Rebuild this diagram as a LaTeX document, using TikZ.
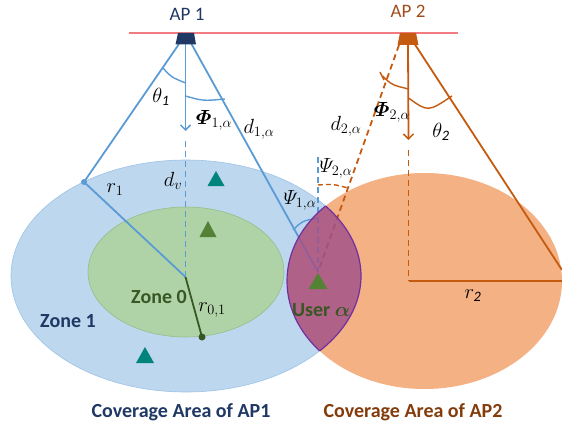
\RequirePackage{fix-cm}
\documentclass[tikz,border=0pt]{standalone}
\usepackage{fontspec}
\setmainfont{Carlito}
\usepackage{amsmath,bm}
\usetikzlibrary{arrows.meta}

\definecolor{beamblue}{HTML}{5B9BD5}
\definecolor{cellblue}{HTML}{BDD7EE}
\definecolor{celledge}{HTML}{9DC3E6}
\definecolor{zonegreen}{HTML}{AFD3A7}
\definecolor{zoneedge}{HTML}{93BF88}
\definecolor{cellorange}{HTML}{F4B183}
\definecolor{beamorange}{HTML}{C55A11}
\definecolor{lensfill}{HTML}{A0508A}
\definecolor{lensedge}{HTML}{7030A0}
\definecolor{navy}{HTML}{1F3864}
\definecolor{darkgreen}{HTML}{385723}
\definecolor{rustbrown}{HTML}{843C0C}
\definecolor{aptwo}{HTML}{A04C1C}
\definecolor{tealtri}{HTML}{00847C}
\definecolor{greentri}{HTML}{548235}
\definecolor{ceiling}{HTML}{F07C82}

\begin{document}
\begin{tikzpicture}[x=1pt,y=-1pt,
  beam1/.style={draw=beamblue,line width=1.8pt},
  beam2/.style={draw=beamorange,line width=1.8pt},
  dash1/.style={beam1,dash pattern=on 6pt off 4pt},
  dash2/.style={beam2,dash pattern=on 6pt off 4pt},
  anglearc1/.style={draw=beamblue,line width=1.4pt},
  anglearc2/.style={draw=beamorange,line width=1.4pt},
  downarrow/.style={-{Straight Barb[length=5pt,width=10pt,line width=1.5pt]}},
  sym/.style={inner sep=0pt,font=\fontsize{20.5}{24}\selectfont},
  zonetxt/.style={inner sep=0pt,font=\fontsize{20}{24}\selectfont\bfseries},
  aptxt/.style={inner sep=0pt,font=\fontsize{19}{22}\selectfont}
]
\useasboundingbox (0,0) rectangle (562,425);

% coverage areas
\fill[cellblue] (186,276) ellipse [x radius=175pt, y radius=116pt];
\draw[celledge,line width=0.6pt] (186,276) ellipse [x radius=175pt, y radius=116pt];
\fill[zonegreen] (186,272) ellipse [x radius=98pt, y radius=65pt];
\draw[zoneedge,line width=0.6pt] (186,272) ellipse [x radius=98pt, y radius=65pt];
\fill[cellorange] (424.5,281) ellipse [x radius=137.5pt, y radius=108pt];

% ceiling
\coordinate (ceilL) at (129,33);
\coordinate (ceilR) at (458,33);
\draw[ceiling,line width=1.4pt] (ceilL) -- (ceilR);

% key points
\coordinate (ap1) at (185.5,44);
\coordinate (ap1l) at (179,44);
\coordinate (ap1r) at (191.5,44);
\coordinate (ap2) at (408,45);
\coordinate (ap2l) at (399,45);
\coordinate (ap2r) at (414,43);
\coordinate (c1) at (185.5,277);
\coordinate (c2) at (408.5,281);
\coordinate (edge1) at (84,182);
\coordinate (user) at (318,272);
\coordinate (z0) at (202,337);
\coordinate (r2end) at (562,281);
\coordinate (leg2end) at (562,270);
\coordinate (arr1) at (185.5,131);
\coordinate (dv1) at (185.5,141);
\coordinate (arr2) at (408.5,140);
\coordinate (dv2) at (408.5,150);
\coordinate (uvert) at (318,157);

% AP 1 beams
\draw[beam1] (ap1l) -- (edge1) -- (c1);
\draw[beam1] (ap1r) -- (user);
\draw[beam1,downarrow] (ap1) -- (arr1);
\draw[dash1] (dv1) -- (c1);
\draw[dash1] (uvert) -- (user);
\fill[beamblue] (edge1) circle (3pt);
\draw[anglearc1] (163,68) .. controls (171,77) .. (185.5,83);
\draw[anglearc1] (185.5,96) .. controls (203,101) .. (225,99);
\draw[anglearc1] (293,230) .. controls (302,221) .. (318,218);

% zone 0 radius
\draw[darkgreen,line width=1.8pt] (c1) -- (z0);
\fill[darkgreen] (z0) circle (3.5pt);

% AP 2 beams
\draw[beam2,downarrow] (ap2) -- (arr2);
\draw[dash2] (dv2) -- (c2);
\draw[beam2] (c2) -- (r2end);
\draw[beam2] (ap2r) -- (leg2end);
\draw[dash2] (ap2l) -- (user);
\draw[anglearc2] (382.5,76) .. controls (392,85) .. (408.5,89);
\draw[anglearc2] (380,72) -- (384,80);
\draw[anglearc2] (408.5,98) .. controls (428,112) .. (452,96);
\draw[beam2,line width=1.4pt,dash pattern=on 5pt off 3pt] (318,185) .. controls (333,184) .. (348,188);

% overlap of the two coverage areas
\begin{scope}
  \clip (186,276) ellipse [x radius=175pt, y radius=116pt];
  \fill[lensfill,opacity=0.82] (424.5,281) ellipse [x radius=137.5pt, y radius=108pt];
  \draw[lensedge,line width=1.2pt] (424.5,281) ellipse [x radius=137.5pt, y radius=108pt];
\end{scope}
\begin{scope}
  \clip (424.5,281) ellipse [x radius=137.5pt, y radius=108pt];
  \draw[lensedge,line width=1.2pt] (186,276) ellipse [x radius=175pt, y radius=116pt];
\end{scope}

% access points
\fill[navy] (178,33) -- (194,33) -- (196,44.5) -- (175.5,44.5) -- cycle;
\fill[beamorange] (400,33) -- (416,33) -- (418.5,45) -- (397.5,45) -- cycle;

% users
\fill[tealtri] (216,171) -- (224.5,186) -- (207.5,186) -- cycle;
\fill[greentri] (208,221) -- (216.5,237) -- (199.5,237) -- cycle;
\fill[tealtri] (145,347) -- (154,363) -- (136,363) -- cycle;
\fill[greentri] (318,273) -- (327.5,289) -- (308.5,289) -- cycle;

% labels
\node[aptxt,text=navy] (lap1) at (187,14) {AP 1};
\node[aptxt,text=aptwo] (lap2) at (408,11.5) {AP 2};
\node[sym] (lth1) at (161,97) {$\theta_{\mathit{1}}$};
\node[sym] (lphi1) at (214,120) {$\bm{\varPhi}_{1,\alpha}$};
\node[sym] (ld1) at (259,129) {$d_{1,\alpha}$};
\node[sym] (ldv) at (173,181) {$d_v$};
\node[sym] (lr1) at (115,190) {$r_1$};
\node[sym] (lr01) at (212,310) {$r_{0,1}$};
\node[sym] (lpsi1) at (300,200) {$\varPsi_{1,\alpha}$};
\node[sym] (lpsi2) at (336,168) {$\varPsi_{2,\alpha}$};
\node[sym] (lphi2) at (392,112) {$\bm{\varPhi}_{2,\alpha}$};
\node[sym] (ld2) at (346,126) {$d_{2,\alpha}$};
\node[sym] (lth2) at (441,132) {$\theta_{\mathit{2}}$};
\node[sym] (lr2) at (473,296) {$r_{\mathit{2}}$};
\node[zonetxt,text=darkgreen] (lz0) at (159,297) {Zone 0};
\node[zonetxt,text=navy] (lz1) at (68,321) {Zone 1};
\node[zonetxt,text=darkgreen] (luser) at (321,310) {User $\bm{\alpha}$};
\node[zonetxt,text=navy] (cap1) at (181,412) {Coverage Area of AP1};
\node[zonetxt,text=rustbrown] (cap2) at (413,412) {Coverage Area of AP2};
\end{tikzpicture}
\end{document}
